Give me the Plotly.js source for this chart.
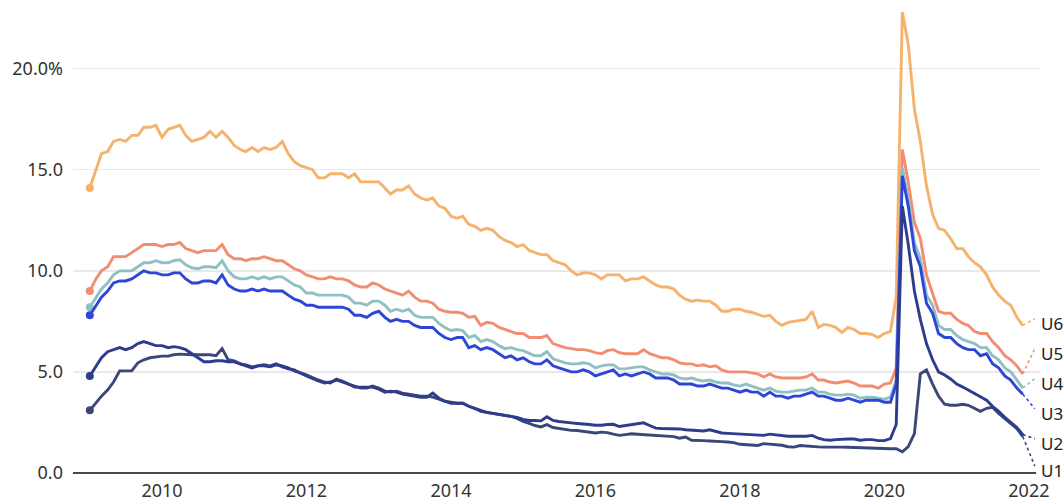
<!DOCTYPE html>
<html>
<head>
<meta charset="utf-8">
<script src="https://cdn.plot.ly/plotly-3.0.1.min.js"></script>
<style>html,body{margin:0;padding:0;background:#fff;}#chart{width:1064px;height:504px;}</style>
</head>
<body>
<div id="chart"></div>
<script>
// Monthly data, Jan 2009 - Dec 2021 (percent)
const startYear = 2009;
const seriesNames = ['U6', 'U5', 'U4', 'U3', 'U2', 'U1'];
const yearTicks = [2010, 2012, 2014, 2016, 2018, 2020, 2022];
const yTickValues = [0, 5, 10, 15, 20];
const yTickLabels = ['0.0', '5.0', '10.0', '15.0', '20.0%'];

const u6 = [
  14.1, 15.0, 15.8, 15.9, 16.4, 16.5, 16.4, 16.7, 16.7, 17.1, 17.1, 17.2,
  16.6, 17.0, 17.1, 17.2, 16.7, 16.4, 16.5, 16.6, 16.9, 16.6, 16.9, 16.6,
  16.2, 16.0, 15.9, 16.1, 15.9, 16.1, 16.0, 16.1, 16.4, 15.8, 15.4, 15.2,
  15.1, 15.0, 14.6, 14.6, 14.8, 14.8, 14.8, 14.6, 14.8, 14.4, 14.4, 14.4,
  14.4, 14.1, 13.8, 14.0, 14.0, 14.2, 13.8, 13.6, 13.5, 13.6, 13.2, 13.1,
  12.7, 12.6, 12.7, 12.3, 12.2, 12.0, 12.1, 12.0, 11.7, 11.5, 11.4, 11.2,
  11.3, 11.0, 10.9, 10.8, 10.8, 10.5, 10.4, 10.3, 10.0, 9.8, 9.9, 9.9,
  9.8, 9.6, 9.8, 9.8, 9.8, 9.5, 9.6, 9.6, 9.7, 9.5, 9.3, 9.2,
  9.2, 9.1, 8.8, 8.6, 8.5, 8.55, 8.5, 8.5, 8.3, 8.0, 8.0, 8.1,
  8.1, 8.0, 7.95, 7.85, 7.75, 7.8, 7.5, 7.3, 7.45, 7.5, 7.55, 7.6,
  8.0, 7.2, 7.35, 7.3, 7.2, 6.95, 7.2, 7.1, 6.9, 6.9, 6.85, 6.7,
  6.9, 7.0, 8.7, 22.8, 21.2, 18.0, 16.4, 14.2, 12.8, 12.1, 12.0, 11.6,
  11.1, 11.1, 10.7, 10.4, 10.2, 9.8, 9.2, 8.8, 8.5, 8.3, 7.7, 7.3
];
const u5 = [
  9.0, 9.6, 10.0, 10.2, 10.7, 10.7, 10.7, 10.9, 11.1, 11.3, 11.3, 11.3,
  11.2, 11.3, 11.3, 11.4, 11.1, 11.0, 10.9, 11.0, 11.0, 11.0, 11.3, 10.8,
  10.6, 10.6, 10.5, 10.6, 10.6, 10.7, 10.6, 10.5, 10.5, 10.3, 10.1, 10.0,
  9.8, 9.7, 9.6, 9.6, 9.7, 9.6, 9.6, 9.5, 9.3, 9.2, 9.2, 9.4,
  9.3, 9.1, 9.0, 8.9, 8.8, 9.0, 8.7, 8.5, 8.5, 8.4, 8.1, 8.0,
  7.95, 7.95, 7.9, 7.7, 7.75, 7.3, 7.45, 7.4, 7.2, 7.1, 7.0, 6.9,
  6.9, 6.7, 6.7, 6.7, 6.8, 6.4, 6.3, 6.2, 6.15, 6.1, 6.1, 6.05,
  5.95, 5.9, 6.05, 6.1, 5.95, 5.9, 5.9, 5.9, 6.1, 5.9, 5.8, 5.7,
  5.7, 5.6, 5.45, 5.4, 5.4, 5.3, 5.35, 5.25, 5.3, 5.1, 5.0, 5.0,
  5.0, 5.0, 4.95, 4.9, 4.75, 4.9, 4.75, 4.7, 4.7, 4.7, 4.7, 4.75,
  4.9, 4.6, 4.6, 4.5, 4.45, 4.5, 4.55, 4.45, 4.3, 4.3, 4.3, 4.2,
  4.4, 4.45, 5.2, 16.0, 14.4, 12.4, 11.6, 9.8, 8.9, 8.0, 7.9, 7.9,
  7.6, 7.4, 7.3, 7.0, 6.9, 6.9, 6.5, 6.2, 5.8, 5.6, 5.3, 4.9
];
const u4 = [
  8.2, 8.7, 9.1, 9.4, 9.8, 10.0, 10.0, 10.0, 10.2, 10.4, 10.4, 10.5,
  10.4, 10.4, 10.5, 10.55, 10.3, 10.15, 10.1, 10.2, 10.2, 10.15, 10.5, 10.0,
  9.7, 9.6, 9.6, 9.7, 9.6, 9.7, 9.6, 9.7, 9.7, 9.5, 9.3, 9.2,
  8.9, 8.9, 8.8, 8.8, 8.8, 8.8, 8.8, 8.7, 8.4, 8.4, 8.3, 8.5,
  8.5, 8.3, 8.0, 8.1, 8.0, 8.1, 7.8, 7.7, 7.7, 7.7, 7.4, 7.2,
  7.05, 7.1, 7.05, 6.7, 6.8, 6.5, 6.6, 6.5, 6.3, 6.15, 6.2, 6.1,
  6.05, 5.9, 5.8, 5.8, 6.0, 5.65, 5.55, 5.45, 5.4, 5.4, 5.45, 5.4,
  5.2, 5.3, 5.35, 5.35, 5.15, 5.15, 5.2, 5.25, 5.25, 5.1, 5.0, 4.9,
  4.9, 4.85, 4.7, 4.65, 4.7, 4.6, 4.55, 4.6, 4.5, 4.45, 4.45, 4.35,
  4.3, 4.4, 4.3, 4.2, 4.1, 4.2, 4.05, 4.0, 4.0, 4.05, 4.1, 4.1,
  4.2, 4.0, 4.0, 3.9, 3.85, 3.85, 3.9, 3.85, 3.7, 3.75, 3.75, 3.7,
  3.65, 3.75, 4.6, 15.1, 13.6, 11.4, 10.6, 8.8, 8.3, 7.3, 7.1, 7.1,
  6.8, 6.6, 6.5, 6.4, 6.2, 6.2, 5.8, 5.6, 5.2, 5.0, 4.6, 4.2
];
const u3 = [
  7.8, 8.3, 8.7, 9.0, 9.4, 9.5, 9.5, 9.6, 9.8, 10.0, 9.9, 9.9,
  9.8, 9.8, 9.9, 9.9, 9.6, 9.4, 9.4, 9.5, 9.5, 9.4, 9.8, 9.3,
  9.1, 9.0, 9.0, 9.1, 9.0, 9.1, 9.0, 9.0, 9.0, 8.8, 8.6, 8.5,
  8.3, 8.3, 8.2, 8.2, 8.2, 8.2, 8.2, 8.1, 7.8, 7.8, 7.7, 7.9,
  8.0, 7.7, 7.5, 7.6, 7.5, 7.5, 7.3, 7.2, 7.2, 7.2, 6.9, 6.7,
  6.6, 6.7, 6.7, 6.2, 6.3, 6.1, 6.2, 6.1, 5.9, 5.7, 5.8, 5.6,
  5.7, 5.5, 5.4, 5.4, 5.6, 5.3, 5.2, 5.1, 5.0, 5.0, 5.1, 5.0,
  4.8, 4.9, 5.0, 5.1, 4.8, 4.9, 4.8, 4.9, 5.0, 4.9, 4.7, 4.7,
  4.7, 4.6, 4.4, 4.4, 4.4, 4.3, 4.3, 4.4, 4.3, 4.2, 4.2, 4.1,
  4.0, 4.1, 4.0, 4.0, 3.8, 4.0, 3.8, 3.8, 3.7, 3.8, 3.8, 3.9,
  4.0, 3.8, 3.8, 3.7, 3.6, 3.6, 3.7, 3.6, 3.5, 3.6, 3.6, 3.6,
  3.5, 3.5, 4.4, 14.7, 13.2, 11.0, 10.2, 8.4, 7.9, 6.9, 6.7, 6.7,
  6.4, 6.2, 6.1, 6.1, 5.8, 5.9, 5.4, 5.2, 4.8, 4.6, 4.2, 3.9
];
const u2 = [
  4.8, 5.3, 5.7, 6.0, 6.1, 6.2, 6.1, 6.2, 6.4, 6.5, 6.4, 6.3,
  6.3, 6.2, 6.25, 6.2, 6.1, 5.9, 5.7, 5.5, 5.5, 5.55, 5.55, 5.5,
  5.5, 5.4, 5.3, 5.2, 5.3, 5.3, 5.25, 5.35, 5.3, 5.2, 5.05, 4.95,
  4.8, 4.65, 4.55, 4.45, 4.5, 4.6, 4.5, 4.4, 4.25, 4.25, 4.25, 4.25,
  4.15, 4.0, 4.05, 4.0, 3.9, 3.85, 3.8, 3.75, 3.75, 3.95, 3.7, 3.55,
  3.45, 3.45, 3.45, 3.3, 3.2, 3.05, 3.0, 2.95, 2.9, 2.85, 2.8, 2.75,
  2.65, 2.6, 2.6, 2.58, 2.78, 2.6, 2.55, 2.5, 2.48, 2.45, 2.44, 2.4,
  2.36, 2.36, 2.4, 2.41, 2.3, 2.35, 2.41, 2.45, 2.48, 2.35, 2.22, 2.2,
  2.2, 2.2, 2.18, 2.14, 2.12, 2.1, 2.08, 2.14, 2.05, 1.98, 1.96, 1.94,
  1.94, 1.92, 1.88, 1.86, 1.86, 1.92, 1.88, 1.84, 1.82, 1.82, 1.82, 1.82,
  1.86, 1.72, 1.65, 1.62, 1.65, 1.68, 1.68, 1.68, 1.62, 1.65, 1.65, 1.6,
  1.6, 1.7, 2.4, 13.2, 11.3, 9.0, 7.6, 6.4, 5.6, 5.0, 4.85, 4.65,
  4.4, 4.25, 4.1, 3.95, 3.8, 3.6, 3.3, 3.05, 2.75, 2.5, 2.25, 1.9
];
const u1 = [
  3.1, 3.5, 3.8, 4.1, 4.5, 5.05, 5.05, 5.05, 5.45, 5.6, 5.7, 5.75,
  5.78, 5.78, 5.85, 5.88, 5.85, 5.85, 5.85, 5.85, 5.85, 5.8, 6.15, 5.6,
  5.55, 5.4, 5.35, 5.25, 5.3, 5.35, 5.3, 5.4, 5.25, 5.15, 5.1, 4.95,
  4.85, 4.7, 4.6, 4.5, 4.45, 4.65, 4.55, 4.4, 4.3, 4.2, 4.2, 4.3,
  4.2, 4.05, 4.0, 4.05, 3.95, 3.9, 3.85, 3.8, 3.8, 3.75, 3.65, 3.55,
  3.5, 3.45, 3.45, 3.3, 3.2, 3.1, 3.0, 2.95, 2.9, 2.85, 2.8, 2.7,
  2.55, 2.45, 2.35, 2.28, 2.39, 2.25, 2.2, 2.15, 2.11, 2.1, 2.05, 2.0,
  1.98, 2.02, 2.0, 1.92, 1.86, 1.9, 1.94, 1.92, 1.9, 1.88, 1.85, 1.82,
  1.82, 1.8, 1.72, 1.78, 1.62, 1.62, 1.6, 1.58, 1.58, 1.55, 1.53, 1.5,
  1.42, 1.4, 1.37, 1.36, 1.45, 1.42, 1.38, 1.37, 1.3, 1.28, 1.36, 1.33,
  1.32, 1.29, 1.28, 1.29, 1.28, 1.28, 1.27, 1.26, 1.25, 1.22, 1.2, 1.2,
  1.2, 1.2, 1.2, 1.05, 1.3, 1.95, 4.9, 5.1, 4.4, 3.8, 3.4, 3.35,
  3.35, 3.4, 3.35, 3.2, 3.05, 3.2, 3.25, 2.95, 2.7, 2.45, 2.2, 1.8
];

const seriesValues = {U6: u6, U5: u5, U4: u4, U3: u3, U2: u2, U1: u1};

// ---- styling (not data) ----
const colors = {U6: '#f5b26c', U5: '#f18e72', U4: '#8fc0c4', U3: '#2e46d8', U2: '#2d3c8c', U1: '#3b4778'};
const Y_MAX = 23;
const labelY = {U6: 7.41, U5: 5.93, U4: 4.45, U3: 2.96, U2: 1.47, U1: 0.12};
const FONT = 'Noto Sans, Open Sans, sans-serif';

const months = u3.map((_, i) => {
  const y = startYear + Math.floor(i / 12);
  const m = (i % 12) + 1;
  return y + '-' + String(m).padStart(2, '0') + '-01';
});

const traces = [];
const shapes = [];
const annotations = [];
const drawOrder = ['U6', 'U5', 'U4', 'U3', 'U1', 'U2'];
drawOrder.forEach(name => {
  const vals = seriesValues[name];
  traces.push({
    type: 'scatter', mode: 'lines', x: months, y: vals,
    line: {color: colors[name], width: 2.9, shape: 'linear'},
    hoverinfo: 'skip'
  });
  traces.push({
    type: 'scatter', mode: 'markers', x: [months[0]], y: [vals[0]],
    marker: {color: colors[name], size: 8},
    hoverinfo: 'skip'
  });
});

seriesNames.forEach(name => {
  const vals = seriesValues[name];
  shapes.push({
    type: 'line', xref: 'x', yref: 'paper',
    x0: months[months.length - 1], y0: vals[vals.length - 1] / Y_MAX,
    x1: '2022-01-31', y1: (labelY[name] + 0.22) / Y_MAX,
    line: {color: colors[name], width: 1.6, dash: 'dot'}
  });
  annotations.push({
    xref: 'paper', yref: 'paper', x: 1.0, y: labelY[name] / Y_MAX,
    xanchor: 'left', yanchor: 'middle', showarrow: false, borderpad: 0,
    text: name, font: {family: FONT, size: 17, color: '#222'}
  });
});

shapes.push({
  type: 'line', xref: 'paper', yref: 'paper', x0: 0, x1: 0.996, y0: 0, y1: 0,
  line: {color: '#4a4a4a', width: 2}
});

const layout = {
  width: 1064, height: 504,
  margin: {l: 73, r: 24, t: 8, b: 31},
  paper_bgcolor: '#ffffff', plot_bgcolor: '#ffffff',
  showlegend: false,
  font: {family: FONT, size: 18, color: '#333'},
  xaxis: {
    type: 'date', range: ['2008-10-08', '2022-02-26'],
    tickvals: yearTicks.map(y => y + '-01-01'),
    ticktext: yearTicks.map(String),
    showgrid: false, zeroline: false, showline: false, ticks: '',
    tickfont: {family: FONT, size: 18, color: '#333'},
    ticklabelstandoff: 5, fixedrange: true
  },
  yaxis: {
    range: [0, Y_MAX],
    tickvals: yTickValues, ticktext: yTickLabels,
    showgrid: true, gridcolor: '#e9e9e9', gridwidth: 1.5,
    zeroline: false, showline: false, ticks: '',
    tickfont: {family: FONT, size: 18, color: '#333'},
    ticklabelstandoff: 9, fixedrange: true
  },
  shapes: shapes,
  annotations: annotations
};

Plotly.newPlot('chart', traces, layout, {staticPlot: true, displayModeBar: false});
</script>
</body>
</html>
